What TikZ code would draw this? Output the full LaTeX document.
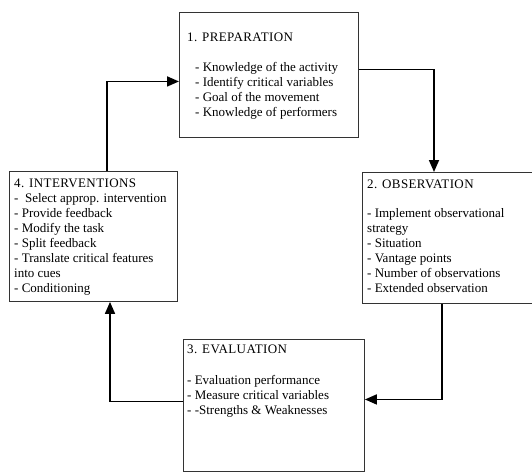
\documentclass[tikz,border=0pt]{standalone}
\usepackage{fontspec}
\setmainfont{Liberation Serif}
\usetikzlibrary{arrows.meta}
\begin{document}
\begin{tikzpicture}[x=1pt,y=-1pt,
  stage/.style={draw=black!80, line width=0.9pt, anchor=north west, inner sep=0pt},
  txt/.style={anchor=north west, align=left, inner sep=0pt,
    font=\fontsize{13}{15}\selectfont},
  head/.style={txt, font=\fontsize{13}{15}\selectfont\addfontfeatures{LetterSpace=3}},
  flow/.style={line width=1.7pt, draw=black,
    -{Triangle[length=12pt,width=10pt]}}]
\useasboundingbox (0,0) rectangle (532,472);

% stage boxes
\node[stage, minimum width=179pt, minimum height=125pt] (prep)   at (179,12)  {};
\node[stage, minimum width=172pt, minimum height=131pt] (obs)    at (362,172) {};
\node[stage, minimum width=181pt, minimum height=131.5pt] (eval) at (183,339) {};
\node[stage, minimum width=168pt, minimum height=130pt] (interv) at (9,171)   {};

% stage texts
\node[head] (prepT) at (187,30.5) {\strut 1. PREPARATION};
\node[txt] (prepB) at (195,61) {\strut - Knowledge of the activity\\
  - Identify critical variables\\
  - Goal of the movement\\
  - Knowledge of performers};

\node[head] (obsT) at (367,177.5) {\strut 2. OBSERVATION};
\node[txt] (obsB) at (367,207) {\strut - Implement observational\\
  strategy\\
  - Situation\\
  - Vantage points\\
  - Number of observations\\
  - Extended observation};

\node[head] (evalT) at (187,342.5) {\strut 3. EVALUATION};
\node[txt] (evalB) at (187,374) {\strut - Evaluation performance\\
  - Measure critical variables\\
  - -Strengths \& Weaknesses};

\node[head] (intervT) at (14,176.5) {\strut 4. INTERVENTIONS};
\node[txt] (intervB) at (14,192) {\strut -\ \ Select approp. intervention\\
  - Provide feedback\\
  - Modify the task\\
  - Split feedback\\
  - Translate critical features\\
  into cues\\
  - Conditioning};

% cycle connectors
\draw[flow] ([yshift=5.5pt]prep.east) -| ([xshift=72pt]obs.north west);
\draw[flow] ([xshift=80pt]obs.south west) |- ([yshift=5.75pt]eval.east);
\draw[flow] ([yshift=3.75pt]eval.west) -| ([xshift=101pt]interv.south west);
\draw[flow] ([xshift=98pt]interv.north west) |- ([yshift=-6.5pt]prep.west);
\end{tikzpicture}
\end{document}
